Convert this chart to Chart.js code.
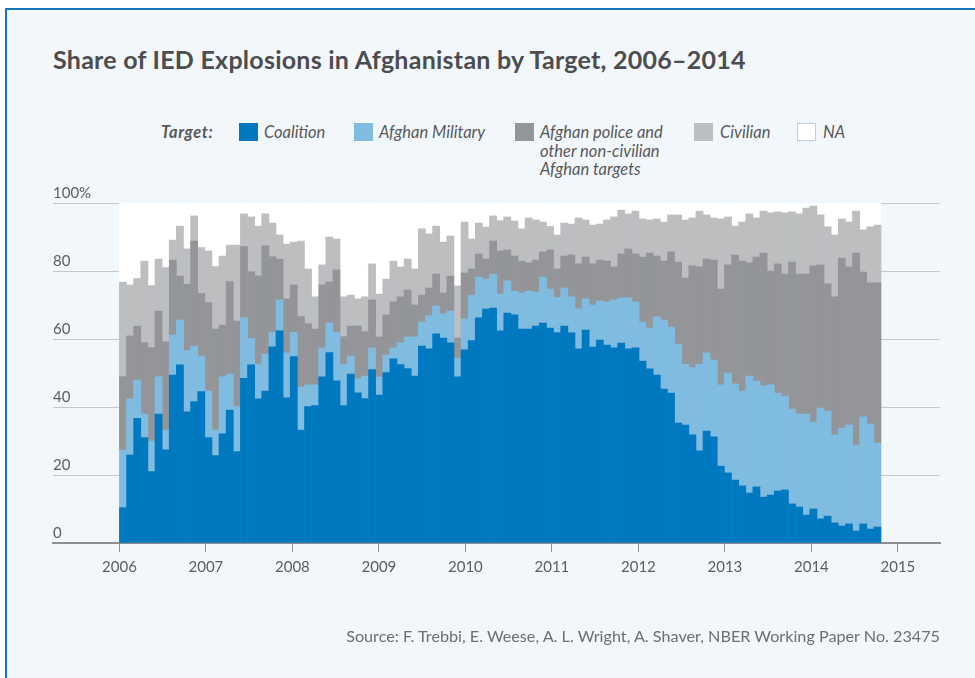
<!DOCTYPE html>
<html>
<head>
<meta charset="utf-8">
<script src="https://cdn.jsdelivr.net/npm/chart.js@4.4.1/dist/chart.umd.min.js"></script>
<style>
  html, body { margin: 0; padding: 0; }
  body { width: 975px; height: 678px; background: #ffffff; position: relative; overflow: hidden; font-family: Lato, "Open Sans", sans-serif; }
  #frame { position: absolute; left: 5px; top: 8px; width: 1000px; height: 700px; border-left: 2px solid #1776bd; border-top: 2px solid #1776bd; background: #f2f7fb; }
  #title { position: absolute; left: 53px; top: 47px; font-weight: 700; font-size: 25px; line-height: 25px; letter-spacing: 0.25px; color: #4d4d4f; white-space: nowrap; }
  .lg { position: absolute; top: 123px; font-size: 16.5px; line-height: 18.7px; font-style: italic; color: #58595b; white-space: nowrap; }
  .sw { position: absolute; top: 123px; width: 19px; height: 18px; box-sizing: border-box; }
  #source { position: absolute; right: 35px; top: 628px; font-size: 16.2px; line-height: 16px; color: #6d6e71; white-space: nowrap; }
  canvas { position: absolute; left: 0; top: 0; }
</style>
</head>
<body>
<div id="frame"></div>
<div id="title">Share of IED Explosions in Afghanistan by Target, 2006–2014</div>

<div class="lg" style="left:161px;font-weight:700;letter-spacing:0.6px;">Target:</div>
<div class="sw" style="left:239px;background:#0079c1;"></div>
<div class="lg" style="left:264px;">Coalition</div>
<div class="sw" style="left:354px;background:#80bbe0;"></div>
<div class="lg" style="left:379px;">Afghan Military</div>
<div class="sw" style="left:515px;background:#939598;"></div>
<div class="lg" style="left:540px;">Afghan police and<br>other non-civilian<br>Afghan targets</div>
<div class="sw" style="left:694px;background:#bcbec0;"></div>
<div class="lg" style="left:720px;">Civilian</div>
<div class="sw" style="left:797px;background:#ffffff;border:1px solid #c9cacc;"></div>
<div class="lg" style="left:823px;">NA</div>

<canvas id="chart" width="975" height="678"></canvas>
<div id="source">Source: F. Trebbi, E. Weese, A. L. Wright, A. Shaver, NBER Working Paper No. 23475</div>

<script>
// Monthly share of IED explosions (%) by target, from January 2006 onward.
const coalition = [
  10.4, 25.9, 36.7, 31.0, 21.0, 37.9, 27.4, 49.4, 52.4, 38.6, 41.6, 44.5,
  31.0, 25.7, 32.1, 39.1, 26.9, 48.4, 52.4, 42.4, 44.7, 57.7, 62.4, 42.7,
  54.8, 33.2, 40.1, 40.4, 48.9, 56.0, 47.7, 40.4, 49.7, 44.2, 42.5, 51.0,
  43.5, 50.1, 54.2, 52.5, 51.3, 49.1, 57.9, 57.1, 61.5, 60.3, 58.9, 48.9,
  56.8, 59.5, 66.2, 68.8, 69.1, 62.4, 67.6, 67.1, 62.9, 62.9, 63.8, 64.7,
  63.2, 61.9, 63.8, 61.8, 57.1, 62.6, 57.6, 59.7, 58.2, 57.4, 58.8, 57.1,
  57.4, 53.5, 51.2, 49.4, 45.3, 44.1, 35.3, 34.7, 31.8, 27.1, 32.9, 31.2,
  22.6, 20.6, 18.5, 16.8, 14.7, 16.5, 13.5, 14.1, 15.3, 15.6, 11.5, 10.6,
  8.2, 10.0, 7.1, 7.9, 5.9, 5.0, 5.6, 3.5, 5.6, 4.1, 4.7
];
const afghanMilitary = [
  16.9, 16.5, 11.2, 6.9, 9.0, 11.0, 5.8, 11.8, 13.2, 18.0, 16.3, 10.5,
  13.7, 7.5, 16.8, 10.6, 13.2, 17.9, 7.8, 10.2, 10.9, 4.2, 9.1, 13.2,
  7.1, 12.7, 6.4, 6.1, 8.5, 8.7, 14.2, 12.2, 5.3, 4.1, 6.6, 6.4,
  5.3, 5.2, 3.2, 6.4, 9.3, 11.5, 7.1, 9.7, 8.2, 7.1, 9.3, 5.5,
  9.1, 13.4, 12.0, 8.8, 10.0, 10.8, 9.5, 7.0, 10.7, 11.2, 10.0, 13.5,
  11.5, 10.3, 11.2, 10.6, 11.8, 9.2, 12.4, 11.5, 12.7, 14.1, 13.3, 15.0,
  13.5, 11.5, 12.0, 17.1, 20.3, 19.4, 23.2, 17.9, 19.8, 25.5, 23.0, 22.6,
  23.9, 29.4, 28.3, 27.9, 34.4, 31.1, 32.7, 32.4, 28.8, 27.6, 27.9, 27.3,
  29.7, 25.6, 32.6, 30.9, 25.9, 28.8, 29.1, 25.3, 31.5, 30.9, 24.7
];
const afghanPolice = [
  21.6, 18.5, 15.9, 21.0, 27.5, 19.3, 26.0, 22.0, 12.9, 19.5, 30.9, 18.4,
  26.0, 29.7, 15.2, 27.2, 25.2, 20.9, 19.6, 26.0, 31.8, 22.3, 12.0, 15.9,
  14.0, 20.7, 18.0, 16.4, 18.5, 12.1, 18.4, 8.1, 8.8, 15.5, 13.1, 14.1,
  11.8, 11.8, 13.5, 13.5, 13.8, 9.4, 7.9, 8.2, 9.4, 6.1, 10.3, 5.9,
  13.5, 7.7, 6.8, 5.9, 9.7, 12.7, 9.1, 10.3, 9.3, 8.3, 9.4, 7.4,
  11.5, 8.4, 9.4, 12.3, 13.2, 12.3, 12.1, 12.0, 12.0, 9.7, 12.9, 14.4,
  14.1, 19.1, 22.1, 17.9, 17.3, 22.1, 24.1, 25.3, 29.9, 28.6, 27.6, 29.4,
  28.2, 31.8, 37.9, 38.2, 33.3, 36.5, 39.1, 33.5, 38.0, 35.9, 43.2, 41.2,
  41.2, 45.9, 42.1, 37.4, 40.6, 50.0, 46.5, 56.5, 42.6, 41.5, 47.1
];
const civilian = [
  27.8, 15.0, 14.0, 24.0, 18.2, 15.3, 21.8, 5.9, 14.7, 10.4, 7.4, 13.5,
  15.2, 18.4, 20.3, 10.7, 22.3, 9.6, 16.1, 14.6, 9.4, 9.9, 7.1, 16.1,
  12.6, 22.2, 16.1, 9.5, 5.9, 13.2, 9.1, 11.7, 9.1, 8.0, 10.2, 10.6,
  12.6, 10.5, 12.0, 8.8, 9.1, 10.6, 19.5, 15.9, 14.1, 15.0, 11.8, 15.3,
  15.0, 8.8, 9.1, 9.4, 7.4, 8.9, 9.7, 10.3, 9.5, 13.2, 11.8, 8.8,
  6.9, 10.0, 9.7, 9.1, 13.5, 10.9, 11.4, 10.6, 12.1, 14.7, 12.9, 10.3,
  12.6, 11.2, 9.7, 10.9, 11.5, 10.9, 13.9, 17.1, 14.1, 16.4, 13.0, 12.4,
  20.6, 14.1, 8.5, 11.5, 14.4, 11.5, 12.3, 17.1, 15.3, 18.0, 14.8, 17.7,
  19.4, 17.6, 14.7, 16.8, 18.2, 11.5, 13.2, 12.3, 12.4, 16.5, 17.0
];
// Unattributed remainder of each month's explosions.
const notAvailable = coalition.map((v, i) =>
  Math.max(0, 100 - v - afghanMilitary[i] - afghanPolice[i] - civilian[i]));

const yearTicks = [2006, 2007, 2008, 2009, 2010, 2011, 2012, 2013, 2014, 2015];
const yTicks = [0, 20, 40, 60, 80, 100];

const asPoints = arr => arr.map((v, i) => ({ x: i, y: v }));

const series = [
  { label: 'Coalition', data: coalition, color: '#0079c1' },
  { label: 'Afghan Military', data: afghanMilitary, color: '#80bbe0' },
  { label: 'Afghan police and other non-civilian Afghan targets', data: afghanPolice, color: '#939598' },
  { label: 'Civilian', data: civilian, color: '#bcbec0' },
  { label: 'NA', data: notAvailable, color: '#ffffff' }
];

const axisFont = { family: 'Lato', size: 15 };
const axisColor = '#5c5d60';

new Chart(document.getElementById('chart'), {
  type: 'bar',
  data: {
    datasets: series.map(s => ({
      label: s.label,
      data: asPoints(s.data),
      backgroundColor: s.color,
      borderWidth: 0,
      barPercentage: 1,
      categoryPercentage: 1,
      xAxisID: 'xb',
      yAxisID: 'y'
    }))
  },
  options: {
    responsive: false,
    animation: false,
    devicePixelRatio: 1,
    layout: { padding: { left: 53, right: 35, top: 203, bottom: 0 } },
    plugins: { legend: { display: false }, title: { display: false }, tooltip: { enabled: false } },
    scales: {
      // month index scale that carries the bars
      xb: {
        type: 'linear',
        position: 'bottom',
        stacked: true,
        offset: false,
        grid: { offset: false },
        min: -9.83,
        max: 114.79,
        display: false
      },
      // calendar-year scale that carries the tick labels
      x: {
        type: 'linear',
        position: 'bottom',
        offset: false,
        min: 2005.232,
        max: 2015.487,
        afterBuildTicks: scale => { scale.ticks = yearTicks.map(v => ({ value: v })); },
        afterFit: scale => { scale.height = 135; },
        ticks: { font: axisFont, color: axisColor, padding: 6, maxRotation: 0, callback: v => String(v) },
        grid: { offset: false, drawOnChartArea: false, drawTicks: true, tickLength: 9, color: '#8e8f91', lineWidth: 1 },
        border: { display: true, color: '#8e8f91', width: 2 }
      },
      y: {
        type: 'linear',
        stacked: true,
        min: 0,
        max: 100,
        afterBuildTicks: scale => { scale.ticks = yTicks.map(v => ({ value: v })); },
        afterFit: scale => { scale.width = 0; },
        ticks: {
          mirror: true,
          padding: 0,
          labelOffset: -10,
          font: axisFont,
          color: axisColor,
          callback: v => (v === 100 ? '100%' : String(v))
        },
        grid: { drawTicks: false, color: '#c6c7c9', lineWidth: 1 },
        border: { display: false }
      }
    }
  }
});
</script>
</body>
</html>
